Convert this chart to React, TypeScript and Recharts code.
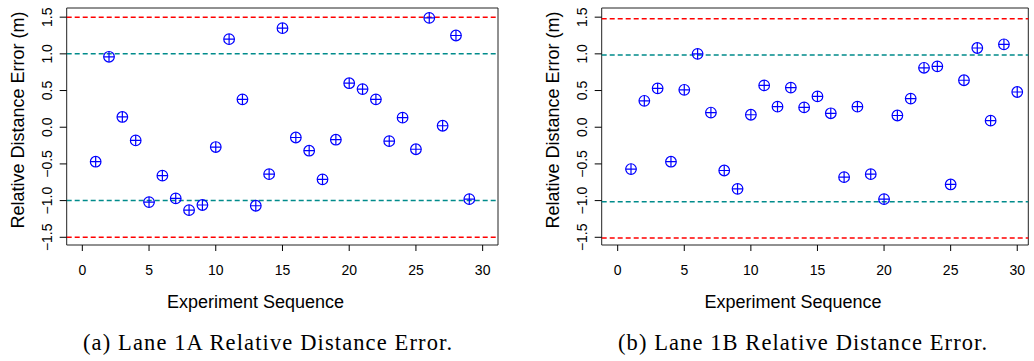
import { ScatterChart, Scatter, XAxis, YAxis, ReferenceLine, ReferenceArea } from "recharts";

// Lane 1A: experiment number and relative error (m)
const runA = [1, 2, 3, 4, 5, 6, 7, 8, 9, 10, 11, 12, 13, 14, 15, 16, 17, 18, 19, 20, 21, 22, 23, 24, 25, 26, 27, 28, 29];
const errA = [-0.47, 0.96, 0.14, -0.18, -1.02, -0.66, -0.97, -1.13, -1.06, -0.27, 1.2, 0.38, -1.07, -0.64, 1.35,
  -0.14, -0.32, -0.71, -0.17, 0.6, 0.52, 0.38, -0.19, 0.13, -0.3, 1.49, 0.02, 1.25, -0.98];

// Lane 1B
const runB = [1, 2, 3, 4, 5, 6, 7, 8, 9, 10, 11, 12, 13, 14, 15, 16, 17, 18, 19, 20, 21, 22, 23, 24, 25, 26, 27, 28, 29, 30];
const errB = [-0.57, 0.36, 0.53, -0.47, 0.51, 1.0, 0.2, -0.59, -0.84, 0.17, 0.57, 0.28, 0.54, 0.27, 0.42,
  0.19, -0.68, 0.28, -0.64, -0.98, 0.16, 0.39, 0.81, 0.83, -0.78, 0.64, 1.08, 0.09, 1.13, 0.48];

// dashed limit lines (outer = red, inner = teal)
const outerA = [1.5, -1.5];
const innerA = [1, -1];
const outerB = [1.48, -1.51];
const innerB = [0.985, -1.015];

const xTicks = [0, 5, 10, 15, 20, 25, 30];
const yTicks = [-1.5, -1, -0.5, 0, 0.5, 1, 1.5];

const SANS = "'Liberation Sans', Arial, Helvetica, sans-serif";

const fmtY = (v: number) => (v < 0 ? "\u2212" : "") + Math.abs(v).toFixed(1);

// pch = 10 style marker: circle with a plus inside
function CirclePlus(props: any) {
  const { cx, cy } = props;
  if (cx == null || cy == null) return null;
  const r = 5.3;
  return (
    <g stroke="#0000FF" strokeWidth={1.2} fill="none">
      <circle cx={cx} cy={cy} r={r} />
      <line x1={cx - r} y1={cy} x2={cx + r} y2={cy} />
      <line x1={cx} y1={cy - r} x2={cx} y2={cy + r} />
    </g>
  );
}

function YTick(props: any) {
  const { x, y, payload } = props;
  return (
    <text
      x={x}
      y={y}
      transform={`rotate(-90 ${x} ${y})`}
      textAnchor="middle"
      dominantBaseline="central"
      fontSize={14}
      fontFamily={SANS}
      fill="#000"
    >
      {fmtY(payload.value)}
    </text>
  );
}

type PanelProps = {
  runs: number[];
  errs: number[];
  outer: number[];
  inner: number[];
  width: number;
  rightMargin: number;
  xDomain: [number, number];
};

function Panel({ runs, errs, outer, inner, width, rightMargin, xDomain }: PanelProps) {
  const data = runs.map((r, i) => ({ x: r, y: errs[i] }));
  const yDomain: [number, number] = [-1.605, 1.625];
  return (
    <ScatterChart width={width} height={361} margin={{ top: 8, right: rightMargin, bottom: 76, left: 0 }}>
      <XAxis
        type="number"
        dataKey="x"
        domain={xDomain}
        allowDataOverflow
        ticks={xTicks}
        axisLine={false}
        tickSize={6}
        tickMargin={14}
        tickLine={{ stroke: "#000" }}
        tick={{ fill: "#000", fontSize: 14, fontFamily: SANS }}
        height={40}
      />
      <YAxis
        type="number"
        dataKey="y"
        domain={yDomain}
        allowDataOverflow
        ticks={yTicks}
        axisLine={false}
        tickSize={7}
        tickMargin={13}
        tickLine={{ stroke: "#000" }}
        tick={<YTick />}
        width={66.7}
      />
      <ReferenceArea
        x1={xDomain[0]}
        x2={xDomain[1]}
        y1={yDomain[0]}
        y2={yDomain[1]}
        fill="none"
        stroke="#222"
        strokeWidth={1}
        fillOpacity={0}
      />
      {outer.map((v) => (
        <ReferenceLine key={`o${v}`} y={v} stroke="#FF0000" strokeWidth={1.5} strokeDasharray="5 3" />
      ))}
      {inner.map((v) => (
        <ReferenceLine key={`i${v}`} y={v} stroke="#008B8B" strokeWidth={1.5} strokeDasharray="5 3" />
      ))}
      <Scatter data={data} shape={<CirclePlus />} isAnimationActive={false} />
    </ScatterChart>
  );
}

export default function App() {
  return (
    <div style={{ position: "absolute", left: 0, top: 0, width: 1034, height: 361, background: "#fff" }}>
      <div style={{ position: "absolute", left: 0, top: 0 }}>
        <Panel runs={runA} errs={errA} outer={outerA} inner={innerA} width={517} rightMargin={19} xDomain={[-1.17, 31.15]} />
      </div>
      <div style={{ position: "absolute", left: 535, top: 0 }}>
        <Panel runs={runB} errs={errB} outer={outerB} inner={innerB} width={499} rightMargin={5.7} xDomain={[-1.2, 30.83]} />
      </div>
      {/* axis titles and sub-captions */}
      <svg width={1034} height={361} style={{ position: "absolute", left: 0, top: 0, pointerEvents: "none" }}>
        <g fontFamily={SANS} fontSize={18} fill="#000">
          <text x={17.5} y={120} transform="rotate(-90 17.5 120)" textAnchor="middle" dominantBaseline="central">
            Relative Distance Error (m)
          </text>
          <text x={553} y={120} transform="rotate(-90 553 120)" textAnchor="middle" dominantBaseline="central">
            Relative Distance Error (m)
          </text>
          <text x={255.5} y={307.5} textAnchor="middle">Experiment Sequence</text>
          <text x={793} y={307.5} textAnchor="middle">Experiment Sequence</text>
        </g>
        <g fontFamily="'Liberation Serif', 'Times New Roman', serif" fontSize={22.5} fill="#000">
          <text x={267.5} y={350} textAnchor="middle" textLength={369} lengthAdjust="spacing">
            (a) Lane 1A Relative Distance Error.
          </text>
          <text x={802.5} y={350} textAnchor="middle" textLength={369} lengthAdjust="spacing">
            (b) Lane 1B Relative Distance Error.
          </text>
        </g>
      </svg>
    </div>
  );
}
